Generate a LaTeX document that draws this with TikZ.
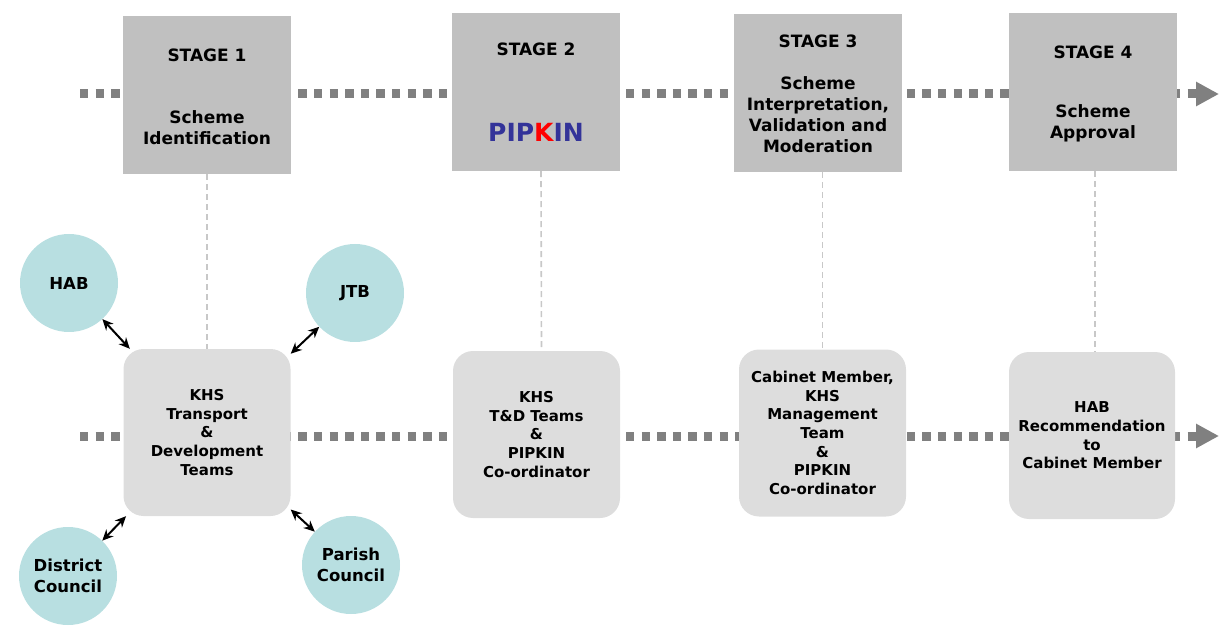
\documentclass[tikz,border=0pt]{standalone}
\usepackage{fontspec}
\setmainfont{DejaVu Sans}
\usetikzlibrary{arrows.meta}
\definecolor{stagegray}{RGB}{192,192,192}
\definecolor{guidegray}{RGB}{200,200,200}
\definecolor{boxgray}{RGB}{221,221,221}
\definecolor{tealfill}{RGB}{184,223,225}
\definecolor{dotgray}{RGB}{128,128,128}
\definecolor{pipblue}{RGB}{51,51,153}
\definecolor{pipred}{RGB}{255,0,0}
\begin{document}
\begin{tikzpicture}[x=1pt,y=-1pt,
  stagebox/.style={fill=stagegray, minimum width=168pt, minimum height=158pt, inner sep=0pt},
  teambox/.style={fill=boxgray, rounded corners=20pt, minimum width=167pt, minimum height=167pt, inner sep=0pt, align=center, font=\bfseries\fontsize{15}{18.7}\selectfont},
  stagetext/.style={font=\bfseries\fontsize{17}{21}\selectfont, align=center, inner sep=0pt},
  party/.style={circle, fill=tealfill, minimum size=98pt, inner sep=0pt, align=center, font=\bfseries\fontsize{16.5}{20.5}\selectfont},
  flow/.style={draw=dotgray, line width=9pt, dash pattern=on 8.3pt off 7.3pt, -{Triangle[length=23pt,width=23pt]}},
  guide/.style={draw=guidegray, line width=1.6pt, dash pattern=on 6pt off 4pt},
  link/.style={line width=2pt, {Stealth[length=11pt,width=10pt]}-{Stealth[length=11pt,width=10pt]}}
]
\useasboundingbox (0,0) rectangle (1221,628);

% flow lines
\coordinate (tstart) at (80,94);
\coordinate (tend) at (1219,92);
\coordinate (bstart) at (80,436);
\coordinate (bend) at (1219,435);
\draw[flow] (tstart) -- (tend |- tstart);
\draw[flow] (bstart) -- (bend |- bstart);

% stage boxes
\node[stagebox] (s1) at (207,95) {};
\node[stagebox] (s2) at (536,92) {};
\node[stagebox] (s3) at (818,93) {};
\node[stagebox] (s4) at (1093,92) {};

\node[stagetext] (t1a) at (207,55) {STAGE 1};
\node[stagetext] (t1b) at (207,128) {Scheme\\Identification};
\node[stagetext] (t2a) at (536,49) {STAGE 2};
\node[font=\bfseries\fontsize{25}{30}\selectfont, inner sep=0pt] (t2b) at (536,132) {{\color{pipblue}PIP}{\color{pipred}K}{\color{pipblue}IN}};
\node[stagetext] (t3a) at (818,41) {STAGE 3};
\node[stagetext] (t3b) at (818,114.5) {Scheme\\Interpretation,\\Validation and\\Moderation};
\node[stagetext] (t4a) at (1093,52) {STAGE 4};
\node[stagetext] (t4b) at (1093,123) {Scheme\\Approval};

% team boxes
\node[teambox] (b1) at (207,432.5) {KHS\\Transport\\\&\\Development\\Teams};
\node[teambox] (b2) at (536.5,434.5) {KHS\\T\&D Teams\\\&\\PIPKIN\\Co-ordinator};
\node[teambox] (b3) at (822.5,433) {Cabinet Member,\\KHS\\Management\\Team\\\&\\PIPKIN\\Co-ordinator};
\node[teambox, minimum width=166pt] (b4) at (1092,435.5) {HAB\\Recommendation\\to\\Cabinet Member};

% guides
\draw[guide] (s1.south) -- (b1.north);
\draw[guide] ([xshift=5pt]s2.south) -- ([xshift=5pt]b2.north);
\draw[guide] (s3.south -| b3.north) -- (b3.north);
\draw[guide] ([xshift=2pt]s4.south) -- ([xshift=2pt]s4.south |- b4.north);

% parties
\node[party] (hab) at (69,283) {HAB};
\node[party] (jtb) at (355,293) {JTB};
\node[party] (dc) at (68,576) {District\\Council};
\node[party] (pc) at (351,565) {Parish\\Council};

\draw[link] (hab) -- (b1);
\draw[link] (jtb) -- (b1);
\draw[link] (dc) -- (b1);
\draw[link] (pc) -- (b1);
\end{tikzpicture}
\end{document}
